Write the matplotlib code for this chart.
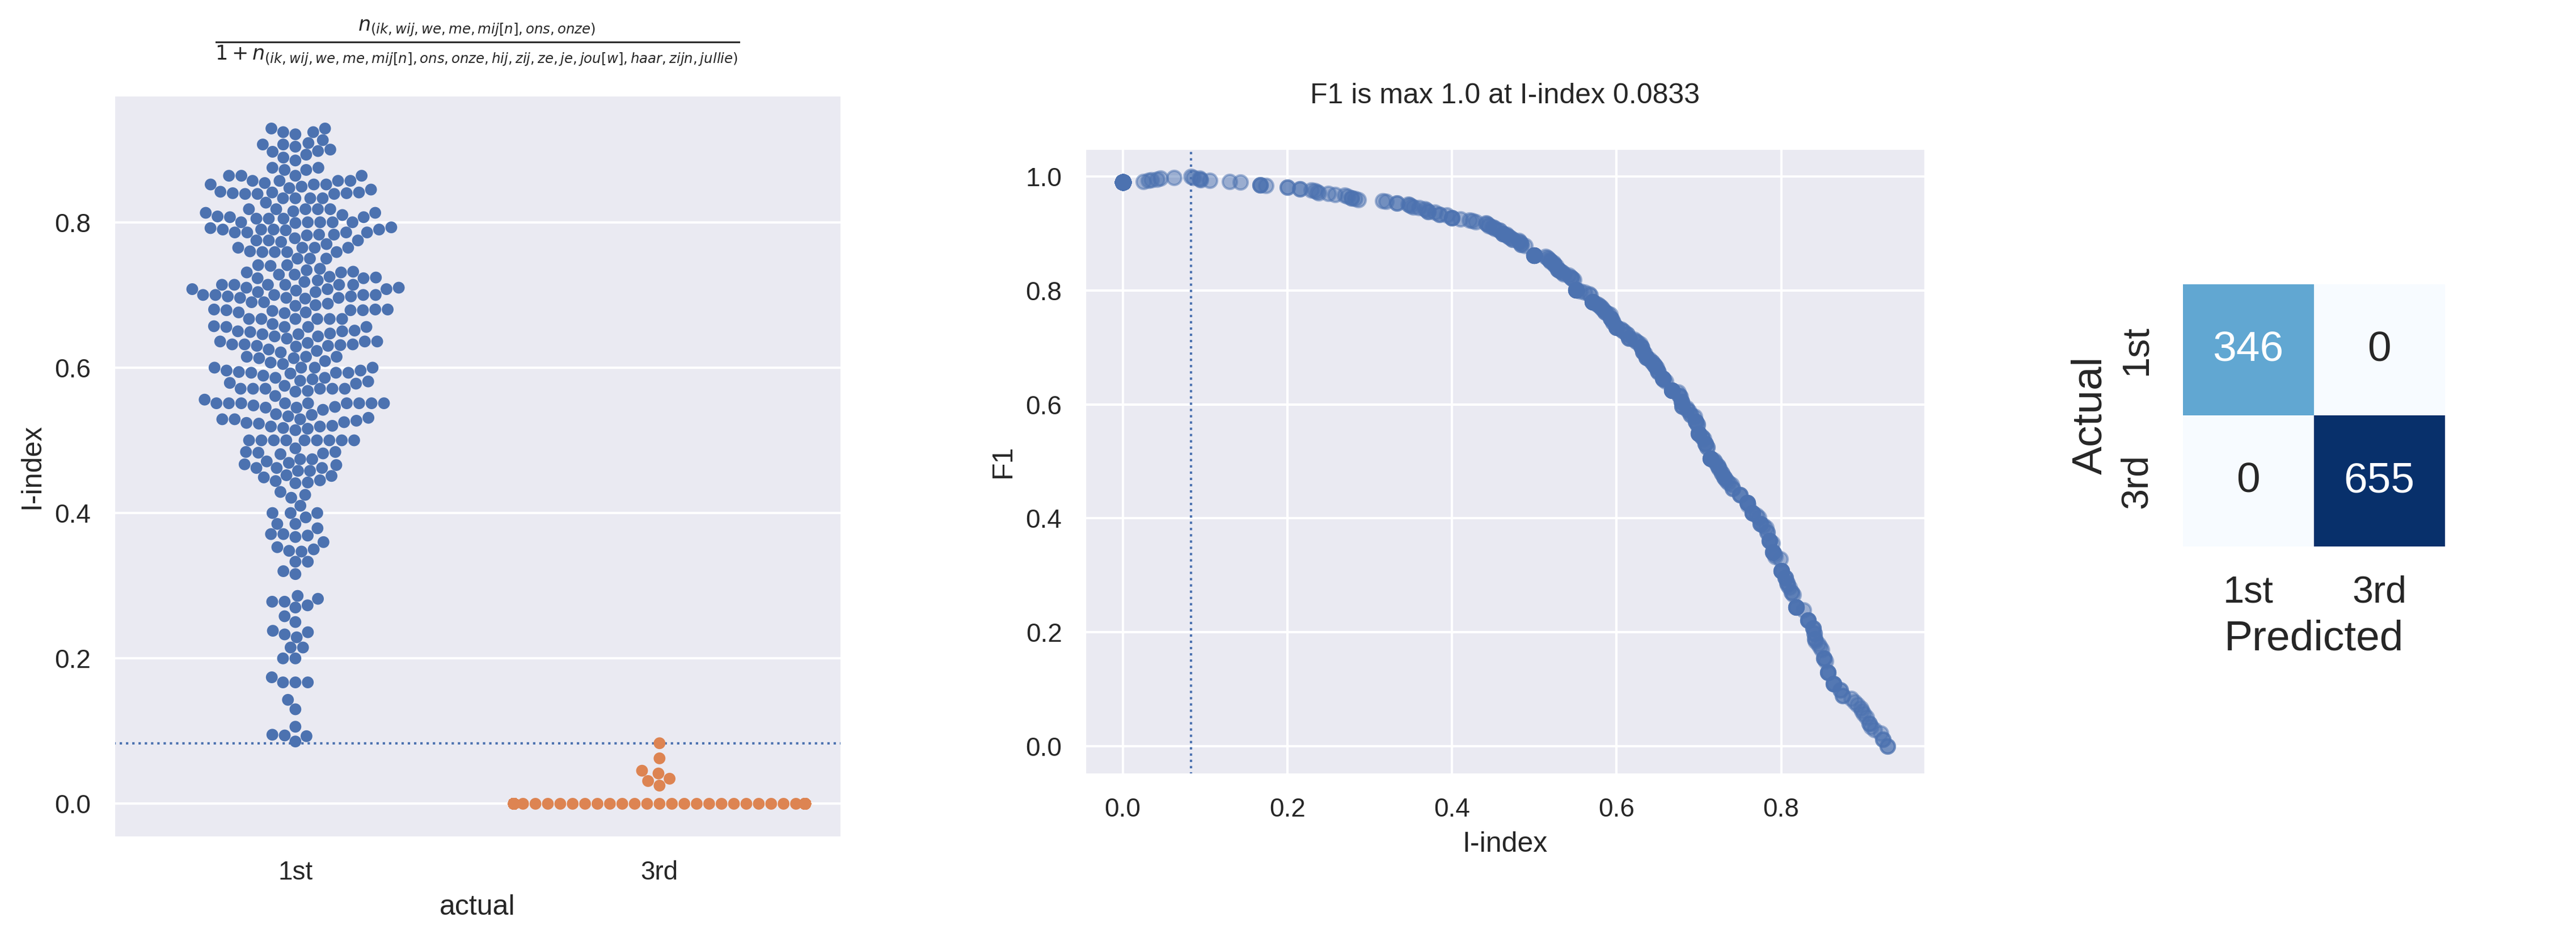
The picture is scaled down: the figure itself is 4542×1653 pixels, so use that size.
import numpy as np
import pandas as pd
import matplotlib
matplotlib.use('Agg')
import matplotlib.pyplot as plt
import seaborn as sns

sns.set_theme(style='darkgrid')
plt.rcParams['font.family'] = ['Liberation Sans', 'DejaVu Sans']

# I-index of the "1st" texts (top to bottom rows)
first_index = [
    0.929, 0.929, 0.924, 0.924, 0.921, 0.913, 0.909, 0.907, 0.907, 0.904,
    0.900, 0.898, 0.897, 0.893, 0.889, 0.885, 0.875, 0.875, 0.872, 0.872,
    0.864, 0.864, 0.864, 0.864, 0.857, 0.857, 0.857, 0.857, 0.854, 0.852,
    0.852, 0.852, 0.849, 0.847, 0.845, 0.842, 0.841, 0.841, 0.840, 0.840,
    0.839, 0.839, 0.839, 0.833, 0.833, 0.833, 0.833, 0.827, 0.818, 0.818,
    0.818, 0.818, 0.818, 0.815, 0.813, 0.813, 0.810, 0.808, 0.807, 0.807,
    0.805, 0.805, 0.805, 0.800, 0.800, 0.800, 0.800, 0.800, 0.799, 0.793,
    0.792, 0.790, 0.790, 0.790, 0.790, 0.789, 0.786, 0.786, 0.786, 0.786,
    0.783, 0.783, 0.782, 0.778, 0.775, 0.775, 0.775, 0.773, 0.770, 0.765,
    0.765, 0.765, 0.765, 0.760, 0.759, 0.759, 0.759, 0.759, 0.750, 0.750,
    0.750, 0.741, 0.741, 0.740, 0.736, 0.734, 0.732, 0.731, 0.731, 0.728,
    0.728, 0.725, 0.724, 0.723, 0.723, 0.720, 0.718, 0.714, 0.714, 0.714,
    0.714, 0.714, 0.714, 0.710, 0.710, 0.708, 0.708, 0.708, 0.706, 0.704,
    0.704, 0.700, 0.700, 0.700, 0.700, 0.700, 0.698, 0.698, 0.696, 0.696,
    0.696, 0.695, 0.690, 0.690, 0.688, 0.686, 0.685,
    0.680, 0.680, 0.680, 0.679, 0.679, 0.679, 0.678, 0.676, 0.676, 0.675,
    0.667, 0.667, 0.667, 0.667, 0.667, 0.667, 0.660, 0.657, 0.656, 0.656,
    0.656, 0.656, 0.651, 0.650, 0.650, 0.649, 0.647, 0.646, 0.646, 0.643,
    0.643, 0.640, 0.636, 0.636, 0.636, 0.634, 0.632, 0.632, 0.632, 0.631,
    0.630, 0.630, 0.629, 0.625, 0.623, 0.621, 0.615, 0.615, 0.615, 0.613,
    0.613, 0.609, 0.607, 0.605, 0.600, 0.600, 0.600, 0.600, 0.596, 0.596,
    0.594, 0.593, 0.593, 0.593, 0.592, 0.589, 0.586, 0.586, 0.584, 0.582,
    0.581, 0.579, 0.578, 0.575, 0.571, 0.571, 0.571, 0.571, 0.571, 0.571,
    0.568, 0.567, 0.561, 0.556, 0.551, 0.551, 0.551, 0.551, 0.551, 0.551,
    0.551, 0.551, 0.551, 0.548, 0.546, 0.545, 0.545, 0.542, 0.536, 0.535,
    0.533, 0.531, 0.529, 0.529, 0.529, 0.527, 0.525, 0.524, 0.523, 0.520,
    0.519, 0.519, 0.517, 0.516, 0.514, 0.500, 0.500, 0.500, 0.500, 0.500,
    0.500, 0.500, 0.500, 0.500, 0.489, 0.484, 0.484, 0.483, 0.482, 0.481,
    0.474, 0.474, 0.471, 0.469, 0.467, 0.466, 0.462, 0.462, 0.462, 0.458,
    0.458, 0.452, 0.451, 0.449, 0.445, 0.444, 0.442, 0.441, 0.429, 0.425,
    0.421, 0.410,
    0.400, 0.400, 0.400, 0.394, 0.385, 0.385, 0.379, 0.371, 0.371, 0.369,
    0.367, 0.360, 0.353, 0.350, 0.348, 0.347, 0.333, 0.333, 0.320, 0.316,
    0.286, 0.282, 0.278, 0.278, 0.273, 0.270, 0.258, 0.250, 0.238, 0.236,
    0.233, 0.229, 0.215, 0.215, 0.200, 0.200, 0.174, 0.167, 0.167, 0.167,
    0.143, 0.130, 0.106, 0.095, 0.094, 0.093, 0.0857,
]
# "3rd" texts: almost all zero, a handful above
third_zero_count = 648
third_nonzero = [0.0833, 0.0625, 0.0455, 0.0417, 0.0345, 0.0313, 0.025]
classes = ['1st', '3rd']

i_index = np.array(first_index + [0.0] * third_zero_count + third_nonzero)
actual = np.array(['1st'] * len(first_index)
                  + ['3rd'] * (third_zero_count + len(third_nonzero)))
df = pd.DataFrame({'actual': actual, 'I-index': i_index})

is_first = actual == '1st'


def f1_at(t):
    pred = i_index > t
    tp = np.sum(pred & is_first)
    fp = np.sum(pred & ~is_first)
    fn = np.sum(~pred & is_first)
    return 2 * tp / (2 * tp + fp + fn)


f1 = np.array([f1_at(t) for t in i_index])
best = np.argmax(f1)
best_t = i_index[best]

fig = plt.figure(figsize=(4542 / 300, 1653 / 300), dpi=300)

# swarm of I-index per class
ax1 = fig.add_axes([0.0440, 0.1071, 0.2827, 0.7919])
sns.swarmplot(data=df, x='actual', y='I-index', hue='actual', order=classes,
              palette=['#4c72b0', '#dd8452'], legend=False, size=5, ax=ax1)
ax1.axhline(best_t, ls=':', lw=1, color='#4c72b0')
titel = (r'$\frac{n_{(ik, wij, we, me, mij[n], ons, onze)}}'
         r'{1 + n_{(ik, wij, we, me, mij[n], ons, onze, hij, zij, ze, je, '
         r'jou[w], haar, zijn, jullie)}}$')
ax1.set_title(titel, fontsize=12, pad=19)
ax1.set_xlabel('actual')
ax1.set_ylabel('I-index')

# F1 per threshold
ax2 = fig.add_axes([0.4210, 0.1742, 0.3265, 0.6679])
ax2.scatter(i_index, f1, alpha=0.5, color='#4c72b0')
ax2.axvline(best_t, ls=':', lw=1, color='#4c72b0')
ax2.set_title('F1 is max {} at I-index {}'.format(round(f1[best], 4), round(best_t, 4)),
              pad=19)
ax2.set_xlabel('I-index')
ax2.set_ylabel('F1')

# confusion matrix
pred = np.where(i_index > best_t, '1st', '3rd')
cm = np.array([[np.sum((actual == a) & (pred == p)) for p in classes] for a in classes])
ax3 = fig.add_axes([0.847, 0.4174, 0.1024, 0.2795])
sns.heatmap(cm, annot=True, fmt='d', cmap='Blues', cbar=False, square=True,
            xticklabels=classes, yticklabels=classes, annot_kws={'size': 18}, ax=ax3)
ax3.set_xlabel('Predicted', fontsize=18)
ax3.set_ylabel('Actual', fontsize=18)
ax3.tick_params(labelsize=16, pad=6)
plt.setp(ax3.get_yticklabels(), rotation=90, va='center')

fig.savefig('out.png', dpi=300)
